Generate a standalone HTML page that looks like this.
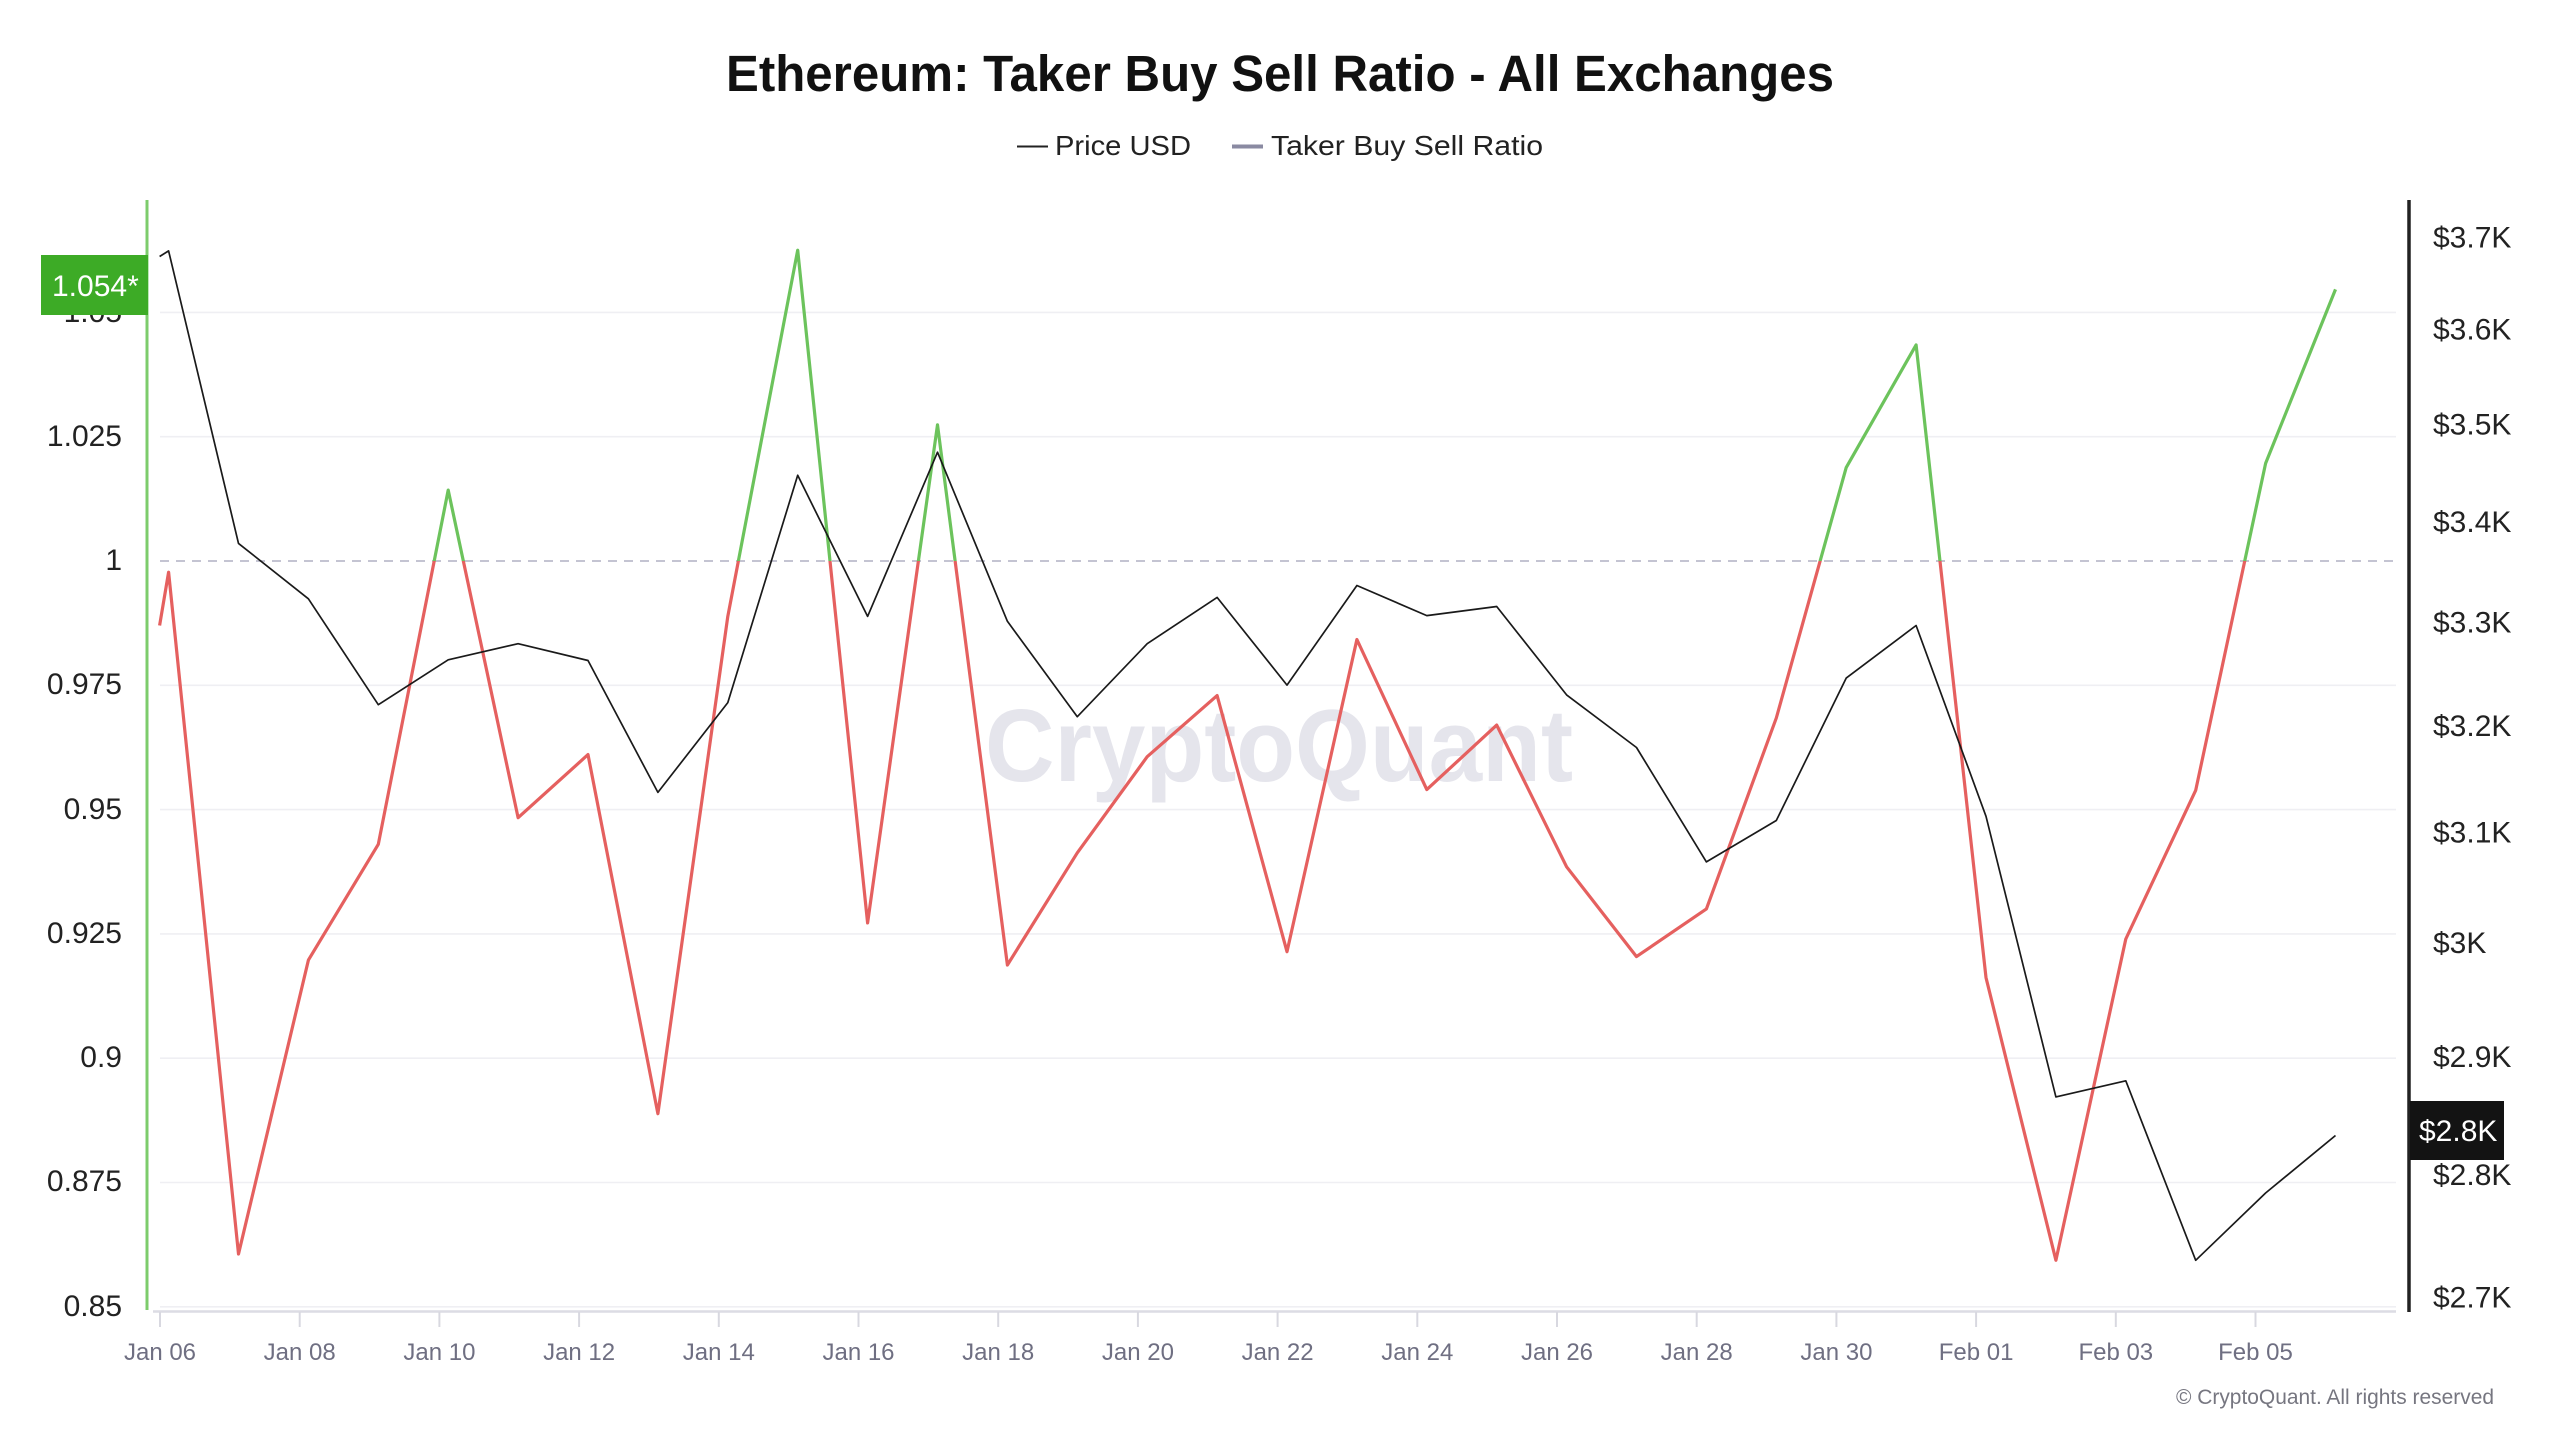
<!DOCTYPE html>
<html>
<head>
<meta charset="utf-8">
<style>
html,body{margin:0;padding:0;background:#fff;}
svg{display:block;}
text{font-family:"Liberation Sans",Arial,sans-serif;}
</style>
</head>
<body>
<svg width="2560" height="1440" viewBox="0 0 2560 1440" xmlns="http://www.w3.org/2000/svg">
<defs>
<clipPath id="above"><rect x="0" y="0" width="2560" height="561"/></clipPath>
<clipPath id="below"><rect x="0" y="561" width="2560" height="879"/></clipPath>
</defs>
<rect width="2560" height="1440" fill="#fff"/>

<!-- Title -->
<text x="726" y="91" font-size="51" font-weight="bold" fill="#111" textLength="1108" lengthAdjust="spacingAndGlyphs">Ethereum: Taker Buy Sell Ratio - All Exchanges</text>

<!-- Legend -->
<line x1="1017" y1="146.5" x2="1048" y2="146.5" stroke="#222" stroke-width="2"/>
<text x="1055" y="155" font-size="28" fill="#222" textLength="136" lengthAdjust="spacingAndGlyphs">Price USD</text>
<line x1="1232" y1="146.5" x2="1263" y2="146.5" stroke="#8a8aa2" stroke-width="4"/>
<text x="1271" y="155" font-size="28" fill="#222" textLength="272" lengthAdjust="spacingAndGlyphs">Taker Buy Sell Ratio</text>

<!-- Gridlines -->
<g stroke="#efeff3" stroke-width="1.6">
<line x1="160" y1="312.4" x2="2396" y2="312.4"/>
<line x1="160" y1="436.7" x2="2396" y2="436.7"/>
<line x1="160" y1="685.3" x2="2396" y2="685.3"/>
<line x1="160" y1="809.6" x2="2396" y2="809.6"/>
<line x1="160" y1="933.9" x2="2396" y2="933.9"/>
<line x1="160" y1="1058.2" x2="2396" y2="1058.2"/>
<line x1="160" y1="1182.5" x2="2396" y2="1182.5"/>
<line x1="160" y1="1306.8" x2="2396" y2="1306.8"/>
</g>
<line x1="160" y1="561" x2="2396" y2="561" stroke="#c4c4d2" stroke-width="2" stroke-dasharray="9,7"/>

<!-- Watermark -->
<text x="985" y="781" font-size="103" font-weight="bold" fill="#e5e5ec" textLength="588" lengthAdjust="spacingAndGlyphs">CryptoQuant</text>

<!-- X axis -->
<line x1="153" y1="1311.5" x2="2396" y2="1311.5" stroke="#dcdce4" stroke-width="2.5"/>
<g stroke="#d8d8e0" stroke-width="2">
<line x1="160" y1="1312" x2="160" y2="1327"/>
<line x1="299.7" y1="1312" x2="299.7" y2="1327"/>
<line x1="439.4" y1="1312" x2="439.4" y2="1327"/>
<line x1="579.1" y1="1312" x2="579.1" y2="1327"/>
<line x1="718.8" y1="1312" x2="718.8" y2="1327"/>
<line x1="858.5" y1="1312" x2="858.5" y2="1327"/>
<line x1="998.2" y1="1312" x2="998.2" y2="1327"/>
<line x1="1137.9" y1="1312" x2="1137.9" y2="1327"/>
<line x1="1277.6" y1="1312" x2="1277.6" y2="1327"/>
<line x1="1417.3" y1="1312" x2="1417.3" y2="1327"/>
<line x1="1557" y1="1312" x2="1557" y2="1327"/>
<line x1="1696.7" y1="1312" x2="1696.7" y2="1327"/>
<line x1="1836.4" y1="1312" x2="1836.4" y2="1327"/>
<line x1="1976.1" y1="1312" x2="1976.1" y2="1327"/>
<line x1="2115.8" y1="1312" x2="2115.8" y2="1327"/>
<line x1="2255.5" y1="1312" x2="2255.5" y2="1327"/>
</g>
<g font-size="24" fill="#6f6f82" text-anchor="middle">
<text x="160" y="1360">Jan 06</text>
<text x="299.7" y="1360">Jan 08</text>
<text x="439.4" y="1360">Jan 10</text>
<text x="579.1" y="1360">Jan 12</text>
<text x="718.8" y="1360">Jan 14</text>
<text x="858.5" y="1360">Jan 16</text>
<text x="998.2" y="1360">Jan 18</text>
<text x="1137.9" y="1360">Jan 20</text>
<text x="1277.6" y="1360">Jan 22</text>
<text x="1417.3" y="1360">Jan 24</text>
<text x="1557" y="1360">Jan 26</text>
<text x="1696.7" y="1360">Jan 28</text>
<text x="1836.4" y="1360">Jan 30</text>
<text x="1976.1" y="1360">Feb 01</text>
<text x="2115.8" y="1360">Feb 03</text>
<text x="2255.5" y="1360">Feb 05</text>
</g>

<!-- Left axis -->
<line x1="147" y1="200" x2="147" y2="1310" stroke="#7dcc6c" stroke-width="3"/>
<g font-size="30" fill="#222" text-anchor="end">
<text x="122" y="322">1.05</text>
<text x="122" y="446">1.025</text>
<text x="122" y="570">1</text>
<text x="122" y="694">0.975</text>
<text x="122" y="819">0.95</text>
<text x="122" y="943">0.925</text>
<text x="122" y="1067">0.9</text>
<text x="122" y="1191">0.875</text>
<text x="122" y="1316">0.85</text>
</g>
<rect x="41" y="255" width="107" height="60" fill="#3dab26"/>
<text x="52" y="296" font-size="30" fill="#fff">1.054*</text>

<!-- Right axis -->
<line x1="2409" y1="200" x2="2409" y2="1312" stroke="#222" stroke-width="3.5"/>
<g font-size="30" fill="#222">
<text x="2433" y="247.5">$3.7K</text>
<text x="2433" y="339.7">$3.6K</text>
<text x="2433" y="434.5">$3.5K</text>
<text x="2433" y="532">$3.4K</text>
<text x="2433" y="632.4">$3.3K</text>
<text x="2433" y="735.9">$3.2K</text>
<text x="2433" y="842.7">$3.1K</text>
<text x="2433" y="953">$3K</text>
<text x="2433" y="1067.1">$2.9K</text>
<text x="2433" y="1185.1">$2.8K</text>
<text x="2433" y="1307.5">$2.7K</text>
</g>
<rect x="2410" y="1101" width="94" height="59" fill="#131313"/>
<text x="2419" y="1141" font-size="30" fill="#fff">$2.8K</text>

<!-- Ratio series -->
<g fill="none" stroke-width="3.2" stroke-linejoin="round">
<polyline clip-path="url(#above)" stroke="#6cc35c" points="159.6,625.5 168.6,572.2 238.5,1254 308.4,960.1 378.3,844.3 448.2,490.1 518.1,817.7 588,754.6 657.9,1113.7 727.8,616.4 797.7,250.2 867.6,922.9 937.5,424.8 1007.4,965 1077.3,852.8 1147.2,756.7 1217.1,695.6 1287,951.7 1356.9,639.5 1426.8,789.6 1496.7,725.1 1566.6,866.8 1636.5,956.6 1706.4,908.9 1776.3,718 1846.2,467.6 1916.1,344.9 1986,977.6 2055.9,1260.3 2125.8,939 2195.7,790.3 2265.6,463.4 2335.5,289.4"/>
<polyline clip-path="url(#below)" stroke="#e5605f" points="159.6,625.5 168.6,572.2 238.5,1254 308.4,960.1 378.3,844.3 448.2,490.1 518.1,817.7 588,754.6 657.9,1113.7 727.8,616.4 797.7,250.2 867.6,922.9 937.5,424.8 1007.4,965 1077.3,852.8 1147.2,756.7 1217.1,695.6 1287,951.7 1356.9,639.5 1426.8,789.6 1496.7,725.1 1566.6,866.8 1636.5,956.6 1706.4,908.9 1776.3,718 1846.2,467.6 1916.1,344.9 1986,977.6 2055.9,1260.3 2125.8,939 2195.7,790.3 2265.6,463.4 2335.5,289.4"/>
</g>

<!-- Price series -->
<polyline fill="none" stroke="#1a1a1a" stroke-width="1.7" stroke-linejoin="round" points="159.6,256.5 168.6,250.9 238.5,543.4 308.4,598.8 378.3,704.7 448.2,659.8 518.1,643.7 588,660.5 657.9,792.4 727.8,702.6 797.7,475.3 867.6,616.4 937.5,452.2 1007.4,621.3 1077.3,716.7 1147.2,643.7 1217.1,597.4 1287,685.1 1356.9,585.5 1426.8,615.6 1496.7,606.5 1566.6,694.9 1636.5,747.5 1706.4,861.9 1776.3,820.5 1846.2,678.1 1916.1,625.5 1986,816.3 2055.9,1096.9 2125.8,1080.8 2195.7,1260.3 2265.6,1193 2335.5,1135.5"/>

<!-- Copyright -->
<text x="2176" y="1404" font-size="21" fill="#767680" textLength="318" lengthAdjust="spacingAndGlyphs">© CryptoQuant. All rights reserved</text>
</svg>
</body>
</html>
